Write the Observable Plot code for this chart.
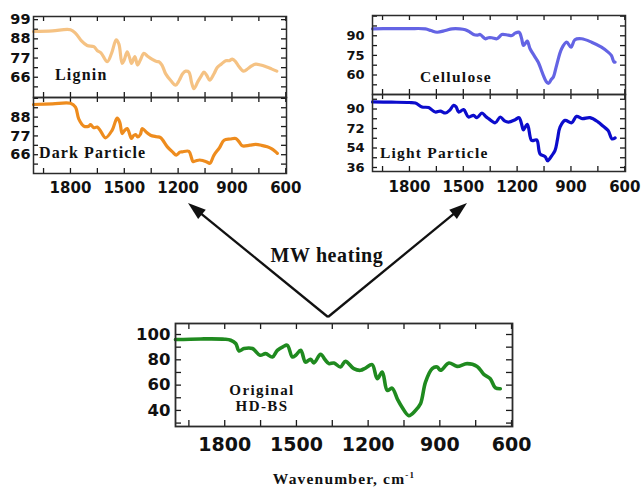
<!DOCTYPE html>
<html><head><meta charset="utf-8">
<script src="https://cdn.jsdelivr.net/npm/d3@7"></script>
<script src="https://cdn.jsdelivr.net/npm/@observablehq/plot@0.6"></script>
<style>
body{margin:0;background:#fff;}
#wrap{position:relative;width:641px;height:487px;overflow:hidden;background:#fff;}
#wrap svg{position:absolute;overflow:visible;}
</style></head>
<body><div id="wrap"></div>
<script>
// ---- data ----
const xLabelTicks = [1800, 1500, 1200, 900, 600];
const xMinorTicks = [1950, 1800, 1650, 1500, 1350, 1200, 1050, 900, 750, 600];

const ligninWavenumber = [2006,1900,1800,1770,1740,1707,1670,1650,1630,1595,1570,1545,1530,1512,1500,1484,1470,1460,1441,1426,1410,1391,1370,1344,1320,1307,1290,1270,1240,1214,1195,1175,1158,1140,1125,1112,1090,1070,1056,1040,1024,1000,982,960,935,915,898,880,860,835,810,790,768,740,710,680,650];
const ligninT = [92.2,92.6,93.2,91,87,84.2,83.5,81.2,80,74.9,80,87.4,85,73.9,76,80.6,77,73.9,77.8,73,76,79.7,78,76.2,75,74.9,73,68.1,64,61.5,64,68,69.5,69,63,59.4,63.5,67,69,67,64.3,68,71.6,73.5,75.4,75.5,76.4,75,72,69.5,71,72.5,73.5,73,72,70.8,69.5];
const ligninYTicks = [66, 77, 88, 99];
const ligninYMinor = [60.5, 66, 71.5, 77, 82.5, 88, 93.5, 99];

const darkWavenumber = [2006,1900,1800,1772,1754,1726,1700,1688,1670,1651,1633,1605,1568,1540,1525,1512,1500,1484,1460,1450,1437,1425,1410,1400,1375,1354,1320,1298,1260,1230,1210,1190,1177,1140,1125,1117,1100,1080,1060,1040,1023,1000,970,944,910,879,860,842,800,768,735,703,680,660,647];
const darkT = [95.4,95.8,96.1,93.8,87,82.8,82.6,83.6,81.8,82.2,80,75.9,80.3,87.4,85,78.4,80,81.3,75.5,77,77.8,76.4,78,81.3,79,77.4,76.5,76,70.6,67.5,65.8,67.5,67.7,68,64,62,62.5,62.9,62.5,61.8,61,65.8,70,74.5,75.2,75.5,73.5,71.2,71.6,72,71.5,70.6,69.5,68,66.8];
const darkYTicks = [66, 77, 88];
const darkYMinor = [60.5, 66, 71.5, 77, 82.5, 88, 93.5, 99];

const celluloseWavenumber = [2006,1900,1800,1711,1680,1646,1600,1563,1520,1489,1465,1443,1420,1406,1390,1378,1360,1341,1313,1300,1285,1250,1229,1211,1189,1175,1165,1150,1143,1128,1100,1083,1054,1040,1026,1010,998,980,952,924,900,878,841,785,730,693,675,660,654];
const celluloseT = [95.3,95.5,95.5,95.3,94,92.7,94,95.3,95.3,94.6,93,91,90.5,91,89,87.7,88.5,88.5,87.7,89,91,90.5,90.2,92,92.7,88,82.6,85,85.9,80.1,73.7,69.9,59.8,55.5,53.5,56.5,58.5,67.4,80.1,85.1,81.3,87,87.7,85.1,81.3,77.5,75,70,69.8];
const celluloseYTicks = [60, 75, 90];
const celluloseYMinor = [52.5, 60, 67.5, 75, 82.5, 90, 97.5, 105];

const lightWavenumber = [2006,1900,1800,1767,1730,1693,1656,1628,1600,1575,1554,1540,1526,1498,1471,1443,1424,1396,1375,1359,1322,1294,1270,1248,1211,1189,1175,1165,1143,1119,1091,1072,1044,1030,1007,989,975,961,933,896,869,837,794,748,720,693,671,654];
const lightT = [96.5,96.3,96,95.6,91.9,91.3,87.2,88.1,86.3,89,93.4,92,87.2,89.4,82.6,84.1,82,86.3,83,81.1,77.3,82.6,79,77.9,80.1,82,76,70.8,75.8,60.9,61.5,48.5,46,42.2,46.9,51.5,62,73.2,79.5,77.3,83.2,81.1,82,77.9,74,70.2,62.4,63.4];
const lightYTicks = [36, 54, 72, 90];
const lightYMinor = [36, 45, 54, 63, 72, 81, 90, 99];

const originalWavenumber = [2006,1900,1800,1775,1754,1740,1719,1684,1652,1629,1601,1580,1555,1538,1517,1503,1482,1462,1441,1427,1399,1380,1364,1343,1316,1295,1260,1232,1211,1183,1162,1141,1120,1100,1078,1058,1030,1002,981,960,932,911,897,862,828,786,744,716,689,668,647];
const originalT = [96,96.5,96.3,95.5,92.9,87,88.9,88.9,83.6,84.9,82.2,87.5,90.5,91.5,82.2,83.6,87.5,78.2,80.4,77.5,84.4,80,77,77.5,74.3,78.8,73,71.7,73.5,76.2,65.1,70.3,55.8,57.6,49.2,42.5,35.9,39.9,45.2,62.4,73,74.3,71.7,77.5,74.8,77,74.8,68.5,65.1,57.9,57.1];
const originalYTicks = [40, 60, 80, 100];
const originalYMinor = [30, 40, 50, 60, 70, 80, 90, 100];

// ---- drawing ----
const wrap = document.getElementById("wrap");
const TICKFONT = "DejaVu Sans, Liberation Sans, sans-serif";
const SERIF = "Liberation Serif, Times New Roman, serif";
const rows = (wn, t) => wn.map((w, i) => ({w, t: t[i]}));

function panel(c) {
  const tk = {stroke: "#1a1a1a", strokeWidth: 1.3};
  const marks = [
    Plot.tickX(xMinorTicks, {x: d => d, insetBottom: c.h - c.tick, ...tk}),
    Plot.tickX(xMinorTicks, {x: d => d, insetTop: c.h - c.tick, ...tk}),
    Plot.tickY(c.yMinor, {y: d => d, insetRight: c.w - c.tick, ...tk}),
    Plot.tickY(c.yMinor, {y: d => d, insetLeft: c.w - c.tick, ...tk}),
    Plot.axisY(c.yTicks, {anchor: "left", tickSize: 0, tickPadding: c.yPad, label: null, tickFormat: d => String(d),
      fontSize: c.yFont, fontWeight: "bold", fontFamily: TICKFONT, fill: "#111"}),
    Plot.line(rows(c.wn, c.t), {x: "w", y: "t", stroke: c.color, strokeWidth: c.lw, curve: "catmull-rom", strokeLinejoin: "round"}),
    Plot.frame({stroke: "#2b2b2b", strokeWidth: c.fw})
  ];
  if (c.xLabels) marks.push(Plot.axisX(xLabelTicks, {anchor: "bottom", tickSize: 0, tickPadding: c.xPad, label: null, tickFormat: d => String(d),
      fontSize: c.xFont, fontWeight: "bold", fontFamily: TICKFONT, fill: "#111"}));
  const svg = Plot.plot({
    width: c.mL + c.w + c.mR, height: c.mT + c.h + c.mB,
    marginLeft: c.mL, marginRight: c.mR, marginTop: c.mT, marginBottom: c.mB,
    x: {domain: [2006, 596], axis: null},
    y: {domain: c.yDomain, axis: null},
    style: {background: "transparent", color: "#222", overflow: "visible"},
    marks
  });
  svg.style.left = (c.x0 - c.mL) + "px";
  svg.style.top = (c.y0 - c.mT) + "px";
  wrap.appendChild(svg);
}

panel({wn: ligninWavenumber, t: ligninT, color: "#F5C283", lw: 3.2, yDomain: [54.4, 100.8], yTicks: ligninYTicks, yMinor: ligninYMinor,
  x0: 33, y0: 16, w: 253, h: 81, mL: 33, mR: 20, mT: 8, mB: 2, tick: 5, yPad: 3, yFont: 14.5, fw: 1.5});
panel({wn: darkWavenumber, t: darkT, color: "#EE8C1E", lw: 3.2, yDomain: [55, 99.5], yTicks: darkYTicks, yMinor: darkYMinor,
  x0: 33, y0: 97, w: 253, h: 76, mL: 33, mR: 20, mT: 2, mB: 30, tick: 5, yPad: 3, yFont: 14.5, fw: 1.5,
  xLabels: true, xPad: 9, xFont: 15});
panel({wn: celluloseWavenumber, t: celluloseT, color: "#6464E4", lw: 3.2, yDomain: [45.1, 105.5], yTicks: celluloseYTicks, yMinor: celluloseYMinor,
  x0: 372, y0: 15, w: 253, h: 79, mL: 30, mR: 16, mT: 8, mB: 2, tick: 5, yPad: 8, yFont: 13, fw: 1.5});
panel({wn: lightWavenumber, t: lightT, color: "#0C0CCC", lw: 3.2, yDomain: [32.3, 103.4], yTicks: lightYTicks, yMinor: lightYMinor,
  x0: 372, y0: 94, w: 253, h: 77, mL: 30, mR: 16, mT: 2, mB: 30, tick: 5, yPad: 8, yFont: 13, fw: 1.5,
  xLabels: true, xPad: 10, xFont: 15});
panel({wn: originalWavenumber, t: originalT, color: "#1F8A1F", lw: 3.6, yDomain: [27.3, 108.7], yTicks: originalYTicks, yMinor: originalYMinor,
  x0: 175, y0: 323, w: 337, h: 103, mL: 50, mR: 30, mT: 5, mB: 35, tick: 6, yPad: 5, yFont: 16.5, fw: 1.8,
  xLabels: true, xPad: 11, xFont: 19});

// ---- annotation overlay: labels, arrows ----
const NS = "http://www.w3.org/2000/svg";
const ov = document.createElementNS(NS, "svg");
ov.setAttribute("width", 641); ov.setAttribute("height", 487);
ov.style.left = "0px"; ov.style.top = "0px";
wrap.appendChild(ov);
function txt(s, x, y, size, anchor, ls) {
  const t = document.createElementNS(NS, "text");
  t.setAttribute("x", x); t.setAttribute("y", y);
  t.setAttribute("font-family", SERIF); t.setAttribute("font-weight", "bold");
  t.setAttribute("font-size", size); t.setAttribute("text-anchor", anchor);
  t.setAttribute("letter-spacing", ls); t.setAttribute("fill", "#111");
  t.textContent = s; ov.appendChild(t); return t;
}
txt("Lignin", 55, 80, 16, "start", 1.2);
txt("Dark Particle", 39, 157.5, 16, "start", 1.1);
txt("Cellulose", 420, 81.5, 15.5, "start", 1.3);
txt("Light Particle", 380, 157.5, 15.5, "start", 1.2);
txt("Original", 262, 395, 15, "middle", 1.4);
txt("HD-BS", 262, 410.5, 15, "middle", 1.4);
txt("MW heating", 327, 262, 20, "middle", 0.6);
const wl = txt("Wavenumber, cm", 344, 484, 15.5, "middle", 1.2);
const sup = document.createElementNS(NS, "tspan");
sup.setAttribute("dy", -6); sup.setAttribute("font-size", 9); sup.textContent = "-1";
wl.appendChild(sup);

const vertex = [328, 317];
[[188, 203], [467, 203]].forEach(tip => {
  const dx = tip[0] - vertex[0], dy = tip[1] - vertex[1], L = Math.hypot(dx, dy);
  const ux = dx / L, uy = dy / L, nx = -uy, ny = ux;
  const bx = tip[0] - 18 * ux, by = tip[1] - 18 * uy;
  const line = document.createElementNS(NS, "line");
  line.setAttribute("x1", vertex[0]); line.setAttribute("y1", vertex[1]);
  line.setAttribute("x2", bx + 2 * ux); line.setAttribute("y2", by + 2 * uy);
  line.setAttribute("stroke", "#111"); line.setAttribute("stroke-width", 2.3);
  ov.appendChild(line);
  const head = document.createElementNS(NS, "polygon");
  head.setAttribute("points", `${tip[0]},${tip[1]} ${bx + 6 * nx},${by + 6 * ny} ${bx - 6 * nx},${by - 6 * ny}`);
  head.setAttribute("fill", "#111");
  ov.appendChild(head);
});
</script>
</body></html>
